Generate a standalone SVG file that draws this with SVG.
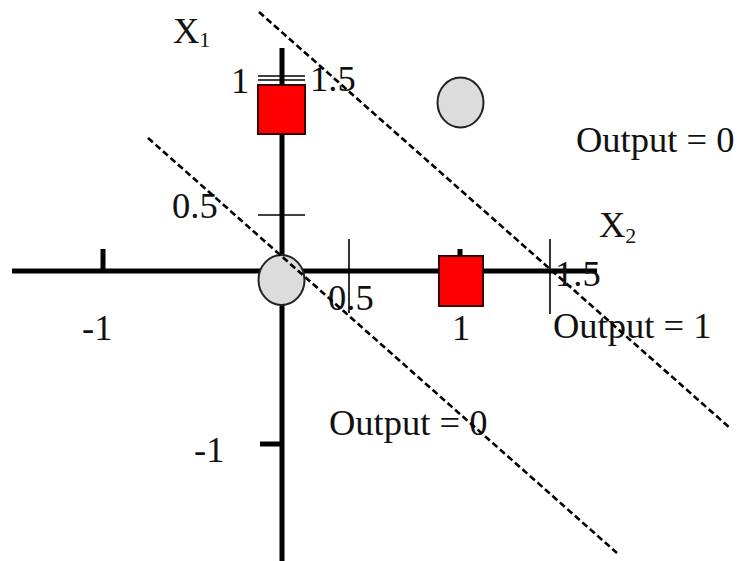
<svg xmlns="http://www.w3.org/2000/svg" width="741" height="561" viewBox="0 0 741 561">
<style>
text{font-family:"Liberation Serif","Times New Roman",serif;font-size:36.5px;fill:#111}
.sub{font-size:22px}
.axis{stroke:#000;stroke-width:5;fill:none}
.thin{stroke:#000;stroke-width:1.6;fill:none}
.sq{fill:#ff0000;stroke:#3a0000;stroke-width:2}
.pt{fill:#dcdcdc;stroke:#222;stroke-width:2}
.dash{stroke:#000;stroke-width:2.6;stroke-dasharray:6.5,3.5;fill:none}
</style>
<rect width="741" height="561" fill="#fff"/>
<g id="axes">
<line class="axis" x1="12" y1="271" x2="597" y2="271"/>
<line class="axis" x1="282" y1="48" x2="282" y2="561"/>
<line class="axis" x1="103" y1="249" x2="103" y2="271"/>
<line class="axis" x1="260" y1="444" x2="282" y2="444"/>
<line class="axis" x1="460" y1="249" x2="460" y2="260"/>
<line class="thin" x1="258" y1="76" x2="305" y2="76"/>
<line class="thin" x1="258" y1="80" x2="305" y2="80"/>
<line class="thin" x1="258" y1="215" x2="305" y2="215"/>
<line class="thin" x1="349" y1="239" x2="349" y2="313"/>
<line class="thin" x1="550" y1="239" x2="550" y2="314"/>
</g>
<g id="labels">
<text x="173" y="43">X<tspan class="sub" dy="4">1</tspan></text>
<text x="231" y="93">1</text>
<text x="310" y="91">1.5</text>
<text x="172" y="218">0.5</text>
<text x="328" y="310">0.5</text>
<text x="599" y="237">X<tspan class="sub" dy="6">2</tspan></text>
<text x="555" y="286">1.5</text>
<text x="452" y="340">1</text>
<text x="82" y="340">-1</text>
<text x="194" y="462">-1</text>
<text x="576" y="152">Output = 0</text>
<text x="553" y="338">Output = 1</text>
<text x="329" y="435">Output = 0</text>
</g>
<g id="square-0-1"><rect class="sq" x="258" y="85" width="47" height="49"/></g>
<g id="square-1-0"><rect class="sq" x="439" y="256" width="44" height="50"/></g>
<g id="circle-0-0"><ellipse class="pt" cx="281.5" cy="280" rx="23" ry="25"/></g>
<g id="circle-1-1"><ellipse class="pt" cx="460.5" cy="102.5" rx="23" ry="25"/></g>
<g id="connectors">
<line class="dash" x1="148" y1="138" x2="617" y2="553"/>
<line class="dash" x1="259" y1="12" x2="730" y2="428"/>
</g>
</svg>
